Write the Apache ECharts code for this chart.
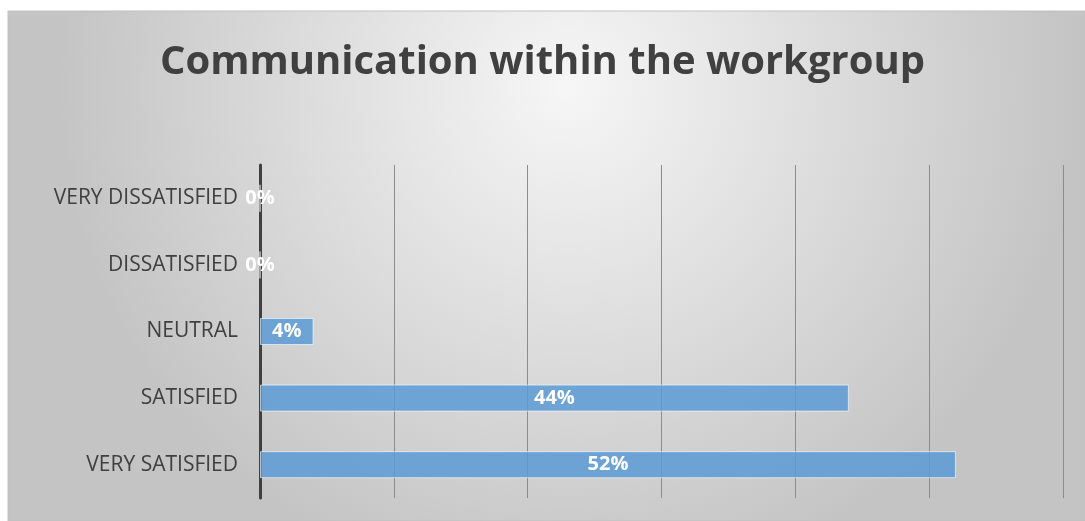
<!DOCTYPE html>
<html>
<head>
<meta charset="utf-8">
<script src="https://cdn.jsdelivr.net/npm/echarts@6/dist/echarts.min.js"></script>
<style>
  html, body { margin: 0; padding: 0; background: #fff; }
  #chart { width: 1085px; height: 521px; }
</style>
</head>
<body>
<div id="chart"></div>
<script type="text/javascript">
var categories = ['VERY SATISFIED', 'SATISFIED', 'NEUTRAL', 'DISSATISFIED', 'VERY DISSATISFIED'];
var values = [52, 44, 4, 0, 0];
var titleText = 'Communication within the workgroup';

var myChart = echarts.init(document.getElementById('chart'));
var option = {
    backgroundColor: '#ffffff',
    animation: false,
    graphic: [{
        type: 'rect',
        z: -10,
        shape: { x: 8, y: 11, width: 1077, height: 510 },
        style: {
            fill: {
                type: 'radial', x: 0.52, y: 0.15, r: 1.0,
                colorStops: [
                    { offset: 0, color: '#f6f6f6' },
                    { offset: 1, color: '#c4c4c4' }
                ]
            },
            stroke: '#c0c0c0',
            lineWidth: 1
        }
    }],
    title: {
        text: titleText,
        left: 'center',
        top: 38,
        textStyle: {
            fontFamily: 'Open Sans',
            fontWeight: 'bold',
            fontSize: 40,
            color: '#404040'
        }
    },
    grid: { left: 260, right: 22, top: 165, bottom: 23 },
    xAxis: {
        type: 'value',
        min: 0,
        max: 60,
        interval: 10,
        axisLabel: { show: false },
        axisLine: { show: false },
        axisTick: { show: false },
        splitLine: { lineStyle: { color: '#8c8c8c', width: 1 } }
    },
    yAxis: {
        type: 'category',
        data: categories,
        axisLine: { lineStyle: { color: '#404040', width: 3 } },
        axisTick: { show: false },
        axisLabel: {
            margin: 22,
            fontFamily: 'Open Sans',
            fontSize: 21,
            color: '#404040'
        }
    },
    series: [{
        type: 'bar',
        data: values,
        barWidth: 27,
        itemStyle: {
            color: 'rgba(91,155,213,0.85)',
            borderColor: 'rgba(255,255,255,0.6)',
            borderWidth: 1
        },
        label: {
            show: true,
            position: 'inside',
            formatter: '{c}%',
            fontFamily: 'Open Sans',
            fontWeight: 'bold',
            fontSize: 20,
            color: '#ffffff'
        }
    }]
};
myChart.setOption(option);
</script>
</body>
</html>
